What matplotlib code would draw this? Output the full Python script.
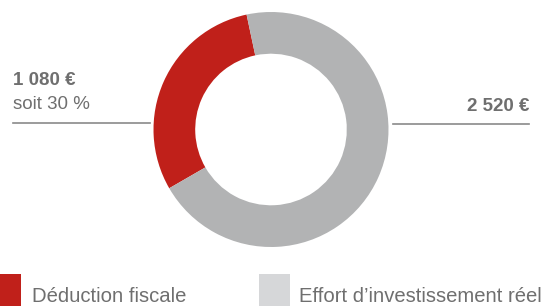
import matplotlib.pyplot as plt
from matplotlib.lines import Line2D
from matplotlib.patches import Rectangle

# données
labels = ['Déduction fiscale', 'Effort d\u2019investissement réel']
valeurs = [1080, 2520]
couleurs = ['#C0201A', '#B2B3B4']
couleur_legende = ['#C0201A', '#D6D7D9']
txt_gauche = ['1 080 €', 'soit 30 %']
txt_droite = '2 520 €'

W, H = 549, 306
GRIS = '#6F6F6F'
plt.rcParams['font.family'] = ['Liberation Sans', 'DejaVu Sans']

def px(x, y):
    return x / W, 1 - y / H

fig = plt.figure(figsize=(W / 100, H / 100), dpi=100)

# anneau
cx, cy, r = 271, 129.5, 117.5
ax = fig.add_axes([(cx - r) / W, (H - cy - r) / H, 2 * r / W, 2 * r / H])
ax.pie(valeurs, colors=couleurs, startangle=102, counterclock=True,
       wedgeprops=dict(width=0.355, linewidth=0))
ax.set_xlim(-1, 1)
ax.set_ylim(-1, 1)
ax.axis('off')

# lignes de rappel
fig.add_artist(Line2D([13 / W, 150 / W], [1 - 123 / H] * 2, color='#8A8A8A', lw=1.2))
fig.add_artist(Line2D([393 / W, 529 / W], [1 - 124 / H] * 2, color='#8A8A8A', lw=1.2))

fig.text(*px(13, 85), txt_gauche[0], color=GRIS, fontsize=13.5, fontweight='bold', va='baseline')
fig.text(*px(13, 109), txt_gauche[1], color=GRIS, fontsize=13.5, va='baseline')
fig.text(*px(529, 111), txt_droite, color=GRIS, fontsize=13.5, fontweight='bold',
         va='baseline', ha='right')

# légende
fig.add_artist(Rectangle(px(0, 306), 21 / W, 32 / H, color=couleur_legende[0], lw=0))
fig.add_artist(Rectangle(px(259, 306), 31 / W, 32 / H, color=couleur_legende[1], lw=0))
fig.text(*px(32, 302), labels[0], color=GRIS, fontsize=14.6, va='baseline')
fig.text(*px(299, 302), labels[1], color=GRIS, fontsize=14.6, va='baseline')

fig.savefig('out.png', dpi=100)
